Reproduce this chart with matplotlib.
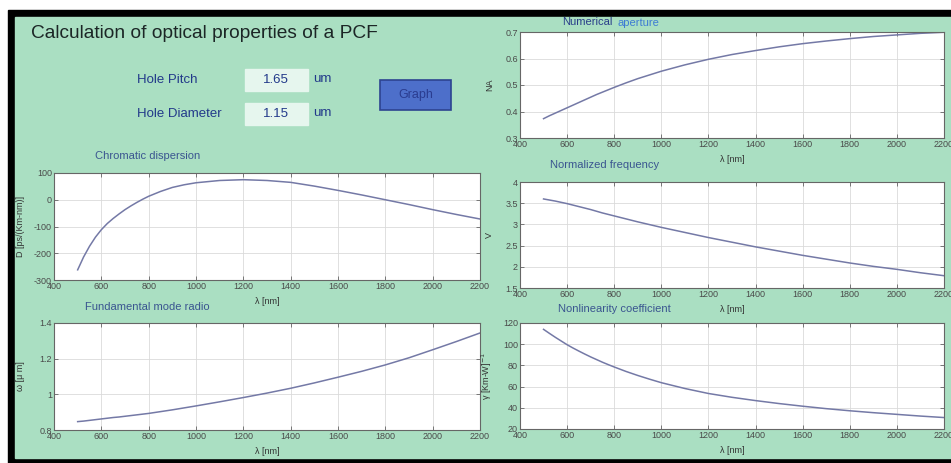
import matplotlib
matplotlib.use("Agg")
import matplotlib.pyplot as plt
from matplotlib.patches import Rectangle
import numpy as np

plt.rcParams['font.family'] = ['Liberation Sans', 'DejaVu Sans']

W, H = 951, 463

# datos (lambda en nm)
lam = [500, 525, 550, 575, 600, 625, 650, 675, 700, 725, 750, 775, 800, 850,
       900, 950, 1000, 1100, 1200, 1300, 1400, 1500, 1600, 1700, 1800, 1900,
       2000, 2100, 2200]
dispersion = [-262, -214, -174, -140, -112, -89, -70, -53, -37, -23, -10, 2, 13,
              31, 46, 56, 63.5, 72, 75, 72, 65, 51, 35, 18, 0, -18, -37, -55, -72]
num_aperture = [0.373, 0.384, 0.394, 0.404, 0.414, 0.424, 0.434, 0.444, 0.454,
                0.464, 0.473, 0.482, 0.491, 0.508, 0.524, 0.538, 0.552, 0.576,
                0.597, 0.615, 0.630, 0.644, 0.656, 0.666, 0.675, 0.683, 0.689,
                0.695, 0.699]
norm_freq = [3.60, 3.575, 3.55, 3.52, 3.49, 3.455, 3.42, 3.385, 3.35, 3.31,
             3.27, 3.235, 3.20, 3.13, 3.06, 2.995, 2.93, 2.81, 2.69, 2.58, 2.47,
             2.37, 2.27, 2.18, 2.09, 2.01, 1.94, 1.86, 1.79]
mode_radio = [0.847, 0.850, 0.854, 0.858, 0.862, 0.866, 0.870, 0.873, 0.877,
              0.881, 0.885, 0.889, 0.893, 0.903, 0.913, 0.924, 0.935, 0.958,
              0.982, 1.007, 1.034, 1.064, 1.096, 1.129, 1.165, 1.205, 1.250,
              1.296, 1.344]
nonlinear = [114.0, 110.2, 106.5, 103.0, 99.5, 96.4, 93.5, 90.7, 88.0, 85.5,
             83.0, 80.7, 78.5, 74.3, 70.5, 67.0, 63.7, 58.2, 53.5, 49.9, 46.8,
             44.0, 41.5, 39.2, 37.2, 35.4, 33.8, 32.2, 30.8]

xticks = [400, 600, 800, 1000, 1200, 1400, 1600, 1800, 2000, 2200]

bg_green = '#aadfc2'
line_col = '#7479a6'

fig = plt.figure(figsize=(W / 100, H / 100), dpi=100)
fig.patch.set_facecolor('white')


def fx(x):
    return x / W


def fy(y):
    return 1 - y / H


# marco negro + fondo verde de la ventana
fig.patches.append(Rectangle((fx(8), fy(463)), 1, (463 - 10) / H,
                             transform=fig.transFigure, color='black', zorder=-20))
fig.patches.append(Rectangle((fx(15), fy(458)), 1, (458 - 17) / H,
                             transform=fig.transFigure, color=bg_green, zorder=-19))

# controles de la interfaz
fig.text(fx(31), fy(33), "Calculation of optical properties of a PCF",
         fontsize=13.8, color='#1c2626', va='center')
fig.text(fx(137), fy(80), "Hole Pitch", fontsize=9.5, color='#22398a', va='center')
fig.text(fx(137), fy(114), "Hole Diameter", fontsize=9.5, color='#22398a', va='center')
for yb, val in [(69, "1.65"), (103, "1.15")]:
    fig.patches.append(Rectangle((fx(245), fy(yb + 22)), 63 / W, 22 / H,
                                 transform=fig.transFigure, color='#e6f6ee', zorder=-10))
    fig.text(fx(276), fy(yb + 11), val, fontsize=9.5, color='#22398a',
             ha='center', va='center')
    fig.text(fx(313), fy(yb + 10), "um", fontsize=9.5, color='#22398a', va='center')
fig.patches.append(Rectangle((fx(380), fy(110)), 71 / W, 30 / H,
                             transform=fig.transFigure, facecolor='#4d6fca',
                             edgecolor='#2d4390', lw=1.2, zorder=-10))
fig.text(fx(415.5), fy(95), "Graph", fontsize=9, color='#2a3c90',
         ha='center', va='center')

# ejes: (izq, arriba, der, abajo) en pixeles
panels = [
    ((54, 173, 480, 280), dispersion, (-300, 100), [-300, -200, -100, 0, 100],
     "D [ps/(Km-nm)]"),
    ((520, 32, 944, 138), num_aperture, (0.3, 0.7), [0.3, 0.4, 0.5, 0.6, 0.7], "NA"),
    ((520, 182, 944, 288), norm_freq, (1.5, 4), [1.5, 2, 2.5, 3, 3.5, 4], "V"),
    ((54, 323, 480, 430), mode_radio, (0.8, 1.4), [0.8, 1, 1.2, 1.4], "ω [μ m]"),
    ((520, 323, 944, 429), nonlinear, (20, 120), [20, 40, 60, 80, 100, 120],
     "γ [Km-W]$^{-1}$"),
]

for (l, t, r, b), vals, ylim, yticks, ylab in panels:
    ax = fig.add_axes([fx(l), fy(b), (r - l) / W, (b - t) / H])
    ax.set_facecolor('white')
    ax.plot(lam, vals, color=line_col, lw=1.1)
    ax.set_xlim(400, 2200)
    ax.set_ylim(*ylim)
    ax.set_xticks(xticks)
    ax.set_yticks(yticks)
    ax.set_yticklabels([("%g" % v) for v in yticks])
    ax.grid(True, color='#dadada', lw=0.6)
    ax.tick_params(direction='in', length=3, width=0.6, top=True, right=True,
                   labelsize=6.5, labelcolor='#4a4a4a', color='#666666', pad=1.5)
    for s in ax.spines.values():
        s.set_color('#666666')
        s.set_linewidth(0.8)
    ax.set_xlabel("λ [nm]", fontsize=6.5, color='#333333', labelpad=4.5)
    ax.set_ylabel(ylab, fontsize=6.5, color='#333333', labelpad=1)
    ax.yaxis.set_label_coords(-(l - (25 if l < 100 else 494)) / (r - l), 0.5)

# titulos de cada grafico
fig.text(fx(95), fy(156), "Chromatic dispersion", fontsize=8, color='#3a5590', va='center')
fig.text(fx(562), fy(22), "Numerical", fontsize=8, color='#2a3f8a', va='center')
fig.text(fx(617), fy(23), "aperture", fontsize=8, color='#3d7bd4', va='center')
fig.text(fx(550), fy(165), "Normalized frequency", fontsize=8, color='#3a5590', va='center')
fig.text(fx(85), fy(307), "Fundamental mode radio", fontsize=8, color='#3a5590', va='center')
fig.text(fx(558), fy(309), "Nonlinearity coefficient", fontsize=8, color='#3a5590', va='center')

fig.savefig("out.png", dpi=100)
